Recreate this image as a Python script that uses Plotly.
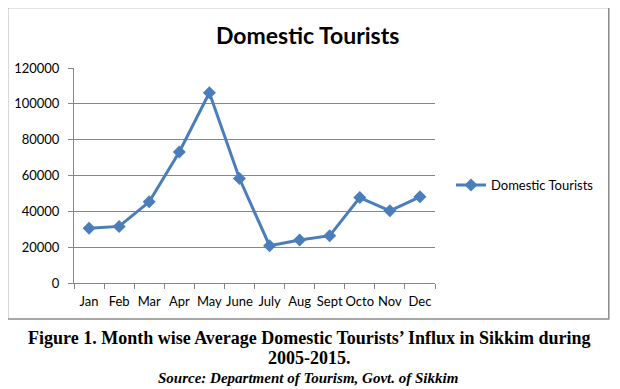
import plotly.graph_objects as go

months = ["Jan", "Feb", "Mar", "Apr", "May", "June", "July", "Aug", "Sept", "Octo", "Nov", "Dec"]
domestic_tourists = [30500, 31600, 45300, 73100, 106200, 58300, 20800, 24000, 26400, 47700, 40300, 48100]
y_ticks = [0, 20000, 40000, 60000, 80000, 100000, 120000]

OFF = 8  # page body margin
W, H = 620 - OFF, 389 - OFF
# plot area in page px (reference coordinates)
PL, PR, PT, PB = 73.5, 435, 67.7, 283
L, R, T, B = PL - OFF, PR - OFF, PT - OFF, PB - OFF


def px(x):
    return (x - PL) / (PR - PL)


def py(y):
    return (PB - y) / (PB - PT)


blue = "#4A7EBB"
grey = "#868686"

fig = go.Figure()
fig.add_trace(go.Scatter(
    x=months, y=domestic_tourists, mode="lines+markers", name="Domestic Tourists",
    line=dict(color=blue, width=3),
    marker=dict(symbol="diamond", size=10, color=blue),
))

fig.update_layout(
    width=W, height=H,
    margin=dict(l=L, r=W - R, t=T, b=H - B, autoexpand=False),
    paper_bgcolor="white", plot_bgcolor="white",
    font=dict(family="Lato, Liberation Sans, sans-serif", color="#000000", size=13),
    showlegend=True,
    legend=dict(x=px(451), y=py(185), xanchor="left", yanchor="middle",
                font=dict(size=13), bgcolor="rgba(0,0,0,0)", itemwidth=30),
    xaxis=dict(type="category", range=[-0.5, 11.5], showgrid=False,
               showline=True, linecolor=grey, linewidth=1,
               ticks="outside", tickson="boundaries", ticklen=5, tickcolor=grey,
               tickangle=0, tickfont=dict(size=13), ticklabelstandoff=6,
               fixedrange=True),
    yaxis=dict(range=[0, 120000], tickvals=y_ticks, ticktext=[str(v) for v in y_ticks],
               showgrid=True, gridcolor=grey, gridwidth=1, zeroline=False,
               showline=True, linecolor=grey, linewidth=1,
               ticks="outside", ticklen=5, tickcolor=grey,
               tickfont=dict(size=13), ticklabelstandoff=6, fixedrange=True),
)

# chart border
fig.add_shape(type="rect", xref="paper", yref="paper",
              x0=px(7), x1=px(609), y0=py(319), y1=py(7),
              line=dict(color="#8c8c8c", width=1.5), layer="below")

# chart title
fig.add_annotation(text="<b>Domestic Tourists</b>", xref="paper", yref="paper",
                   x=px(307.5), y=py(35), xanchor="center", yanchor="middle",
                   showarrow=False, font=dict(size=23, color="#000000"))

# figure caption
cap_font = "Liberation Serif, Times New Roman, serif"
fig.add_annotation(text="<b>Figure 1. Month wise Average Domestic Tourists’ Influx in Sikkim during</b>",
                   xref="paper", yref="paper", x=px(309), y=py(338),
                   xanchor="center", yanchor="middle", showarrow=False,
                   font=dict(size=18, family=cap_font, color="#000000"))
fig.add_annotation(text="<b>2005-2015.</b>",
                   xref="paper", yref="paper", x=px(309), y=py(358),
                   xanchor="center", yanchor="middle", showarrow=False,
                   font=dict(size=18, family=cap_font, color="#000000"))
fig.add_annotation(text="<b><i>Source: Department of Tourism, Govt. of Sikkim</i></b>",
                   xref="paper", yref="paper", x=px(308), y=py(378),
                   xanchor="center", yanchor="middle", showarrow=False,
                   font=dict(size=15, family=cap_font, color="#000000"))

fig.write_html("out.html")
